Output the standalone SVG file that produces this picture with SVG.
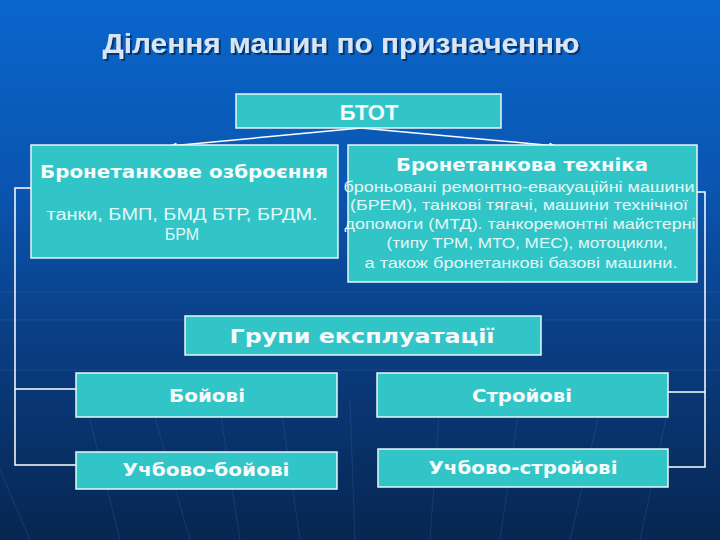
<svg xmlns="http://www.w3.org/2000/svg" width="720" height="540" viewBox="0 0 720 540">
<defs>
<linearGradient id="bg" x1="0" y1="0" x2="0" y2="1">
<stop offset="0" stop-color="#0a66cc"/>
<stop offset="0.35" stop-color="#0a55b0"/>
<stop offset="0.65" stop-color="#0a3c80"/>
<stop offset="1" stop-color="#072650"/>
</linearGradient>
<filter id="sh" x="-5%" y="-20%" width="110%" height="150%">
<feDropShadow dx="2" dy="2" stdDeviation="0.6" flood-color="#06306a" flood-opacity="0.9"/>
</filter>
<marker id="arr" viewBox="0 0 10 10" refX="9" refY="5" markerWidth="5" markerHeight="5" orient="auto">
<path d="M0,1 L10,5 L0,9 z" fill="#ffffff"/>
</marker>
<style>
.box{fill:#31c5c7;stroke:#e8f6f6;stroke-width:1.5}
.hd{font-family:"DejaVu Sans","Liberation Sans",sans-serif;font-weight:bold;fill:#f6fafa;text-anchor:middle}
.bd{font-family:"Liberation Sans","DejaVu Sans",sans-serif;fill:#e4f6f6;text-anchor:middle}
.ln{stroke:#ffffff;stroke-width:1.5;fill:none}
.tex{stroke:#5a8fd0;stroke-width:1;opacity:0.18;fill:none}
</style>
</defs>
<rect width="720" height="540" fill="url(#bg)"/>
<g id="texture">
<line class="tex" x1="0" y1="292" x2="720" y2="292"/>
<line class="tex" x1="0" y1="320" x2="720" y2="320"/>
<line class="tex" x1="0" y1="370" x2="720" y2="370"/>
<path class="tex" d="M90 420 L120 540 M150 400 L190 540 M220 410 L240 540 M280 400 L300 540 M350 400 L355 540 M440 400 L430 540 M520 400 L500 540 M600 410 L570 540 M670 400 L640 540 M0 470 L30 540"/>
</g>
<g id="title">
<text x="341" y="53" font-family="Liberation Sans, Arial, sans-serif" font-weight="bold" font-size="27" fill="#d6e6f6" text-anchor="middle" textLength="477" lengthAdjust="spacingAndGlyphs" filter="url(#sh)">Ділення машин по призначенню</text>
</g>
<g id="connectors">
<line class="ln" x1="361" y1="128" x2="170" y2="146" marker-end="url(#arr)"/>
<line class="ln" x1="361" y1="128" x2="556" y2="146" marker-end="url(#arr)"/>
<polyline class="ln" points="31,188 15,188 15,465 76,465"/>
<line class="ln" x1="15" y1="389" x2="76" y2="389"/>
<polyline class="ln" points="697,192 705,192 705,467 668,467"/>
<line class="ln" x1="705" y1="392" x2="668" y2="392"/>
</g>
<g id="btot">
<rect class="box" x="236" y="94" width="265" height="34"/>
<text x="369" y="120" font-family="Liberation Sans, Arial, sans-serif" font-weight="bold" font-size="22" fill="#f6fafa" text-anchor="middle">БТОТ</text>
</g>
<g id="ozbroennia">
<rect class="box" x="31" y="145" width="307" height="113"/>
<text class="hd" x="184" y="178" font-size="17" textLength="288" lengthAdjust="spacingAndGlyphs">Бронетанкове озброєння</text>
<text class="bd" x="182" y="220" font-size="16" textLength="271" lengthAdjust="spacingAndGlyphs">танки, БМП, БМД БТР, БРДМ.</text>
<text class="bd" x="182" y="240" font-size="16">БРМ</text>
</g>
<g id="tekhnika">
<rect class="box" x="348" y="145" width="349" height="137"/>
<text class="hd" x="522" y="171" font-size="17" textLength="252" lengthAdjust="spacingAndGlyphs">Бронетанкова техніка</text>
<text class="bd" x="519" y="192" font-size="15" textLength="351" lengthAdjust="spacingAndGlyphs">броньовані ремонтно-евакуаційні машини</text>
<text class="bd" x="519" y="210" font-size="15" textLength="338" lengthAdjust="spacingAndGlyphs">(БРЕМ), танкові тягачі, машини технічної</text>
<text class="bd" x="520" y="229" font-size="15" textLength="351" lengthAdjust="spacingAndGlyphs">допомоги (МТД). танкоремонтні майстерні</text>
<text class="bd" x="527" y="248" font-size="15" textLength="281" lengthAdjust="spacingAndGlyphs">(типу ТРМ, МТО, МЕС), мотоцикли,</text>
<text class="bd" x="521" y="268" font-size="15" textLength="313" lengthAdjust="spacingAndGlyphs">а також бронетанкові базові машини.</text>
</g>
<g id="grupy">
<rect class="box" x="185" y="316" width="356" height="39"/>
<text class="hd" x="362" y="343" font-size="20" textLength="265" lengthAdjust="spacingAndGlyphs">Групи експлуатації</text>
</g>
<g id="boiovi">
<rect class="box" x="76" y="373" width="261" height="44"/>
<text class="hd" x="207" y="402" font-size="18" textLength="76" lengthAdjust="spacingAndGlyphs">Бойові</text>
</g>
<g id="stroiovi">
<rect class="box" x="377" y="373" width="291" height="44"/>
<text class="hd" x="522" y="402" font-size="18" textLength="100" lengthAdjust="spacingAndGlyphs">Стройові</text>
</g>
<g id="uchbovo-boiovi">
<rect class="box" x="76" y="452" width="261" height="37"/>
<text class="hd" x="206" y="476" font-size="18" textLength="167" lengthAdjust="spacingAndGlyphs">Учбово-бойові</text>
</g>
<g id="uchbovo-stroiovi">
<rect class="box" x="378" y="449" width="290" height="38"/>
<text class="hd" x="523" y="474" font-size="18" textLength="189" lengthAdjust="spacingAndGlyphs">Учбово-стройові</text>
</g>
</svg>
